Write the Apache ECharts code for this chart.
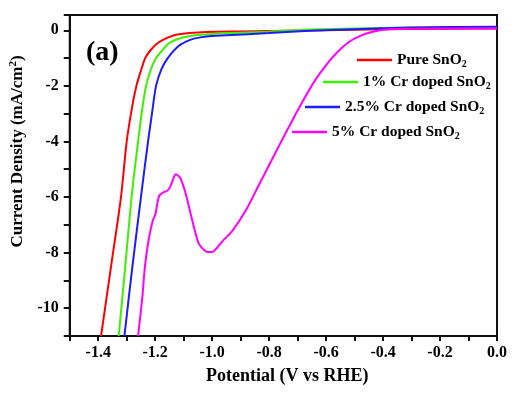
<!DOCTYPE html>
<html>
<head>
<meta charset="utf-8">
<script src="https://cdn.jsdelivr.net/npm/echarts@6/dist/echarts.min.js"></script>
<style>html,body{margin:0;padding:0;background:#fff}#c{width:514px;height:394px}</style>
</head>
<body>
<div id="c"></div>
<script>
var seriesNames = ['Pure SnO2', '1% Cr doped SnO2', '2.5% Cr doped SnO2', '5% Cr doped SnO2'];
var pure = [[-1.390,-11.0],[-1.355,-8.5],[-1.320,-6.0],[-1.300,-4.0],[-1.280,-2.7],[-1.266,-2.0],[-1.250,-1.45],[-1.235,-1.0],[-1.215,-0.7],[-1.190,-0.45],[-1.160,-0.28],[-1.130,-0.17],[-1.080,-0.10],[-1.020,-0.06],[-0.900,-0.04],[-0.700,-0.01],[-0.500,0.02],[-0.300,0.05],[0.000,0.06]];
var cr1 = [[-1.328,-11.0],[-1.305,-8.5],[-1.283,-6.0],[-1.260,-4.0],[-1.245,-2.8],[-1.232,-2.0],[-1.215,-1.4],[-1.197,-1.0],[-1.175,-0.72],[-1.156,-0.5],[-1.130,-0.35],[-1.100,-0.25],[-1.050,-0.17],[-1.000,-0.13],[-0.900,-0.09],[-0.800,-0.05],[-0.675,0.02],[-0.500,0.06],[-0.300,0.10],[0.000,0.12]];
var cr25 = [[-1.308,-11.0],[-1.280,-8.5],[-1.250,-6.0],[-1.225,-4.0],[-1.210,-2.9],[-1.197,-2.0],[-1.178,-1.4],[-1.156,-1.0],[-1.122,-0.6],[-1.090,-0.4],[-1.064,-0.3],[-1.020,-0.22],[-0.950,-0.18],[-0.800,-0.10],[-0.675,-0.03],[-0.500,0.04],[-0.300,0.10],[0.000,0.13]];
var cr5 = [[-1.260,-11.0],[-1.245,-9.6],[-1.237,-8.6],[-1.224,-7.6],[-1.208,-6.83],[-1.200,-6.65],[-1.190,-6.1],[-1.185,-5.94],[-1.174,-5.85],[-1.156,-5.76],[-1.145,-5.58],[-1.135,-5.3],[-1.128,-5.18],[-1.111,-5.33],[-1.093,-5.87],[-1.070,-6.83],[-1.047,-7.67],[-1.019,-7.97],[-1.000,-7.98],[-0.985,-7.85],[-0.960,-7.55],[-0.927,-7.19],[-0.880,-6.45],[-0.840,-5.65],[-0.800,-4.85],[-0.760,-4.05],[-0.720,-3.27],[-0.680,-2.52],[-0.640,-1.82],[-0.600,-1.25],[-0.560,-0.78],[-0.520,-0.42],[-0.480,-0.20],[-0.440,-0.06],[-0.400,0.02],[-0.350,0.05],[-0.200,0.06],[0.000,0.06]];
var colors = ['#ff0000', '#3ef000', '#1c1cff', '#ff00ff'];
var legendPos = [[357,52],[323,74],[305,99],[292,124]];
var xMin = -1.5, xMax = 0, xStep = 0.1;
var yMin = -11, yMax = 0.55, yStep = 1;

var font = 'Liberation Serif';
var data = [pure, cr1, cr25, cr5];
var chart = echarts.init(document.getElementById('c'));
var legends = seriesNames.map(function (n, i) {
  return {
    data: [n], left: legendPos[i][0], top: legendPos[i][1], padding: 0,
    icon: 'rect', itemWidth: 35, itemHeight: 2.5, selectedMode: false,
    formatter: function (name) { return name.replace('SnO2', 'SnO{s|2}'); },
    textStyle: { fontFamily: font, fontWeight: 'bold', fontSize: 15.5, color: '#000',
      rich: { s: { fontFamily: font, fontWeight: 'bold', fontSize: 10, color: '#000', padding: [8, 0, 0, 0] } } }
  };
});
chart.setOption({
  animation: false,
  grid: { left: 60, right: 17, top: 15, bottom: 58, show: true, borderColor: '#111', borderWidth: 2 },
  legend: legends,
  graphic: [{ type: 'text', left: 86, top: 39, style: { text: '(a)', fontFamily: font, fontWeight: 'bold', fontSize: 28, fill: '#000' } }],
  xAxis: {
    type: 'value', min: xMin, max: xMax, interval: xStep,
    name: 'Potential (V vs RHE)', nameLocation: 'middle', nameGap: 31,
    nameTextStyle: { fontFamily: font, fontWeight: 'bold', fontSize: 18, color: '#000', padding: [0, 0, 0, 8] },
    axisLine: { onZero: false, lineStyle: { color: '#111', width: 2 } },
    axisTick: { length: 5, lineStyle: { color: '#111', width: 2 } },
    splitLine: { show: false },
    axisLabel: { margin: 9, fontFamily: font, fontWeight: 'bold', fontSize: 16, color: '#000',
      formatter: function (v) { return Math.round(v * 10) % 2 === 0 ? v.toFixed(1) : ''; } }
  },
  yAxis: {
    type: 'value', min: yMin, max: yMax, interval: yStep,
    name: 'Current Density (mA/cm{p|2})', nameLocation: 'middle', nameGap: 35,
    nameTextStyle: { fontFamily: font, fontWeight: 'bold', fontSize: 17, color: '#000', padding: [0, 0, 0, 48],
      rich: { p: { fontFamily: font, fontWeight: 'bold', fontSize: 11, color: '#000', padding: [0, 0, 9, 0] } } },
    axisLine: { onZero: false, lineStyle: { color: '#111', width: 2 } },
    axisTick: { length: 6, lineStyle: { color: '#111', width: 2 } },
    splitLine: { show: false },
    axisLabel: { margin: 11, fontFamily: font, fontWeight: 'bold', fontSize: 16, color: '#000',
      formatter: function (v) { return (Math.abs(v % 2) < 1e-9) ? String(v) : ''; } }
  },
  series: seriesNames.map(function (n, i) {
    return { name: n, type: 'line', data: data[i], showSymbol: false, smooth: 0.25,
      lineStyle: { color: colors[i], width: 2 }, itemStyle: { color: colors[i] }, clip: true };
  })
});
</script>
</body>
</html>
